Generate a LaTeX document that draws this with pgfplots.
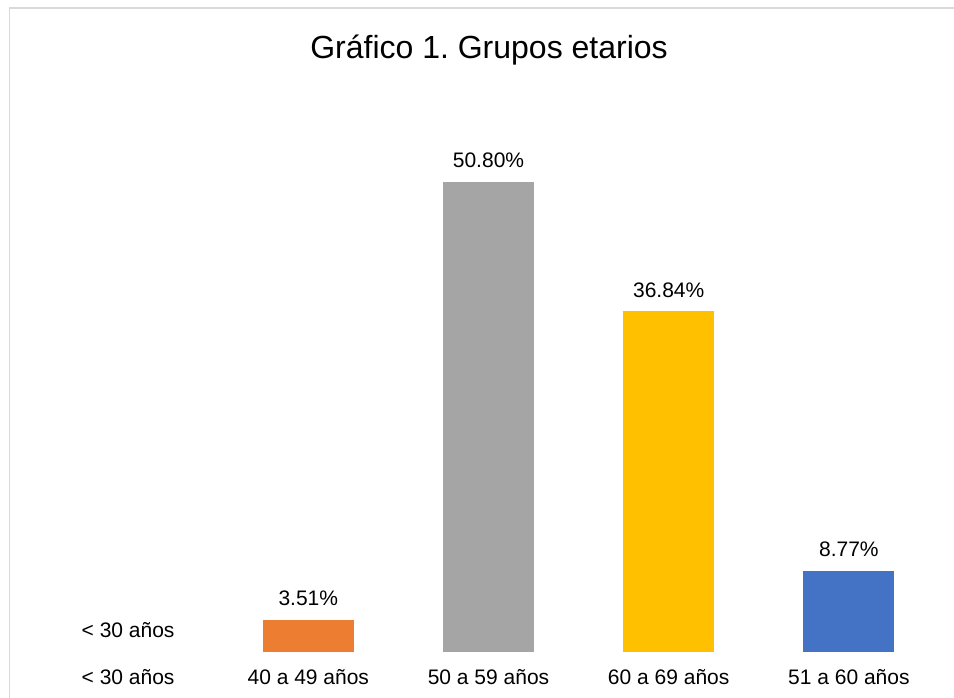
\documentclass[border=0pt]{standalone}
\usepackage{fontspec}
\setmainfont{Liberation Sans}
\usepackage{pgfplots}
\pgfplotsset{compat=1.18}
\frenchspacing
\definecolor{cOrange}{HTML}{ED7D31}
\definecolor{cGray}{HTML}{A5A5A5}
\definecolor{cYellow}{HTML}{FFC000}
\definecolor{cBlue}{HTML}{4472C4}
\definecolor{cBorder}{HTML}{D9D9D9}
\begin{document}
\begin{tikzpicture}
\useasboundingbox (0,0) rectangle (954bp,698bp);
\fill[white] (0,0) rectangle (954bp,698bp);
\draw[cBorder, line width=1.5bp] (9.5bp,0) -- (9.5bp,690bp) -- (954bp,690bp);
\node[anchor=base, font=\fontsize{32bp}{38bp}\selectfont] at (489bp,639bp) {Gráfico 1.\ Grupos etarios};
\begin{axis}[
  at={(38bp,46bp)}, anchor=south west,
  scale only axis, width=901bp, height=508.86bp,
  xmin=-0.5, xmax=4.5, ymin=0, ymax=55,
  ybar, bar width=91bp, bar shift=0pt,
  hide y axis,
  axis x line*=bottom,
  x axis line style={draw=none},
  xtick={0,1,2,3,4},
  xticklabels={< 30 años, 40 a 49 años, 50 a 59 años, 60 a 69 años, 51 a 60 años},
  major tick length=0pt,
  xticklabel style={anchor=base, yshift=-32.5bp, font=\fontsize{21bp}{25bp}\selectfont},
  point meta=explicit symbolic,
  nodes near coords,
  every node near coord/.append style={anchor=base, yshift=14bp, font=\fontsize{21bp}{25bp}\selectfont, text=black},
  clip=false,
]
\addplot[draw=none, fill=none] coordinates {(0,0) [< 30 años]};
\addplot[draw=none, fill=cOrange] coordinates {(1,3.51) [3.51\%]};
\addplot[draw=none, fill=cGray] coordinates {(2,50.80) [50.80\%]};
\addplot[draw=none, fill=cYellow] coordinates {(3,36.84) [36.84\%]};
\addplot[draw=none, fill=cBlue] coordinates {(4,8.77) [8.77\%]};
\end{axis}
\end{tikzpicture}
\end{document}
